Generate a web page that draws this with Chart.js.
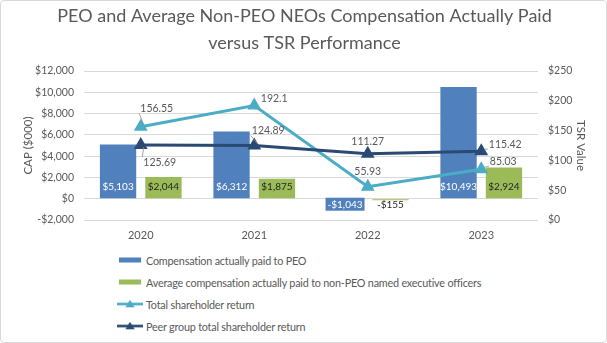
<!DOCTYPE html>
<html lang="en">
<head>
<meta charset="UTF-8">
<title>PEO and Average Non-PEO NEOs Compensation Actually Paid versus TSR Performance</title>
<script src="https://cdn.jsdelivr.net/npm/chart.js"></script>
<style>
  html, body { margin: 0; padding: 0; background: #fff; }
  #frame {
    position: relative; width: 605px; height: 341px;
    border: 1px solid #d9d9d9; border-radius: 4px; overflow: hidden;
    font-family: Lato, "Open Sans", sans-serif; color: #595959;
  }
  #box { position: absolute; left: 0; top: 0; width: 605px; height: 245px; }
  #legend { position: absolute; left: 116px; top: 248px; font-size: 10.8px; letter-spacing: -0.2px; }
  .row { height: 22px; display: flex; align-items: center; }
  .sw { width: 26px; height: 10px; margin-right: 3px; position: relative; }
</style>
</head>
<body>
<div id="frame">
  <div id="box"><canvas id="capChart"></canvas></div>
  <div id="legend"></div>
</div>
<script>
// values
var years = ['2020', '2021', '2022', '2023'];
var peoCap = [5103, 6312, -1043, 10493];
var neoCap = [2044, 1875, -155, 2924];
var tsr = [156.55, 192.1, 55.93, 85.03];
var peerTsr = [125.69, 124.89, 111.27, 115.42];
var capTicks = [-2000, 0, 2000, 4000, 6000, 8000, 10000, 12000];
var tsrTicks = [0, 50, 100, 150, 200, 250];

var names = [
  'Compensation actually paid to PEO',
  'Average compensation actually paid to non-PEO named executive officers',
  'Total shareholder return',
  'Peer group total shareholder return'
];
var blue = '#5181bc', green = '#9bbb59', light = '#4bacc6', navy = '#2a4a73';
var grey = '#595959';
var FONT = 'Lato, "Open Sans", sans-serif';

function money(v) {
  var s = '$' + Math.abs(v).toLocaleString('en-US');
  return v < 0 ? '-' + s : s;
}

// label placement for the line points: [dx, dy, leader]
var tsrPos = [[16, -18, true], [20, -7, false], [0, -15, false], [22, -8, true]];
var peerPos = [[19, 18, true], [14, -15, true], [0, -12, false], [24, -7, true]];

var valueLabels = {
  id: 'valueLabels',
  afterDatasetsDraw: function (chart) {
    var ctx = chart.ctx;
    var zero = chart.scales.y.getPixelForValue(0);
    ctx.save();
    ctx.font = '10px ' + FONT;
    ctx.textAlign = 'center';
    ctx.textBaseline = 'middle';
    [0, 1].forEach(function (di) {
      chart.getDatasetMeta(di).data.forEach(function (bar, i) {
        var v = chart.data.datasets[di].data[i];
        var y = v >= 0 ? zero - 12 : zero + 6;
        ctx.fillStyle = (di === 0) ? '#ffffff' : '#262626';
        if (di === 0 && v < 0) {
          ctx.fillStyle = blue;
          var w = ctx.measureText(money(v)).width + 4;
          ctx.fillRect(bar.x - w / 2, zero - 1, w, 13);
          ctx.fillStyle = '#ffffff';
        }
        ctx.fillText(money(v), bar.x, y);
      });
    });
    ctx.font = '10.5px ' + FONT;
    [[2, tsrPos], [3, peerPos]].forEach(function (p) {
      chart.getDatasetMeta(p[0]).data.forEach(function (pt, i) {
        var o = p[1][i];
        var txt = String(chart.data.datasets[p[0]].data[i]);
        var lx = pt.x + o[0], ly = pt.y + o[1];
        ctx.fillStyle = grey;
        ctx.fillText(txt, lx, ly);
        if (o[2]) {
          var w = ctx.measureText(txt).width;
          var ex = lx - w / 2 - 1;
          var ey = o[1] < 0 ? ly + 5 : ly - 6;
          ctx.strokeStyle = '#8c8c8c';
          ctx.lineWidth = 0.8;
          ctx.beginPath();
          ctx.moveTo(ex, ey);
          ctx.lineTo(pt.x + 3, pt.y + (o[1] < 0 ? -2 : 2));
          ctx.stroke();
        }
      });
    });
    ctx.restore();
  }
};

var ctx = document.getElementById('capChart').getContext('2d');
var chart = new Chart(ctx, {
  type: 'bar',
  data: {
    labels: years,
    datasets: [
      { label: names[0], data: peoCap, backgroundColor: blue, yAxisID: 'y', order: 2,
        categoryPercentage: 0.8, barPercentage: 0.8 },
      { label: names[1], data: neoCap, backgroundColor: green, yAxisID: 'y', order: 2,
        categoryPercentage: 0.8, barPercentage: 0.8 },
      { type: 'line', label: names[2], data: tsr, borderColor: light, backgroundColor: light,
        borderWidth: 3, pointStyle: 'triangle', pointRadius: 5, yAxisID: 'y1', order: 1 },
      { type: 'line', label: names[3], data: peerTsr, borderColor: navy, backgroundColor: navy,
        borderWidth: 3, pointStyle: 'triangle', pointRadius: 5, yAxisID: 'y1', order: 0 }
    ]
  },
  options: {
    responsive: true,
    maintainAspectRatio: false,
    animation: false,
    layout: { padding: { left: 16, right: 14, top: 2, bottom: 0 } },
    plugins: {
      legend: { display: false },
      tooltip: { enabled: false },
      title: {
        display: true,
        text: ['PEO and Average Non-PEO NEOs Compensation Actually Paid', 'versus TSR Performance'],
        color: grey,
        font: { family: FONT, size: 18, weight: 'normal', lineHeight: 1.5 },
        padding: { top: 0, bottom: 14 }
      }
    },
    scales: {
      x: {
        afterFit: function (s) { s.height = 26; },
        grid: { display: false, drawTicks: false },
        border: { display: false },
        ticks: { color: grey, font: { size: 11, family: FONT }, padding: 9 }
      },
      y: {
        position: 'left',
        min: capTicks[0], max: capTicks[capTicks.length - 1],
        afterBuildTicks: function (s) { s.ticks = capTicks.map(function (v) { return { value: v }; }); },
        afterFit: function (s) { s.width = 67; },
        grid: { color: '#d9d9d9', drawTicks: false },
        border: { display: false },
        ticks: { color: grey, padding: 10, font: { size: 10.5, family: FONT },
                 callback: function (v) { return money(v); } },
        title: { display: true, text: 'CAP ($000)', color: grey, font: { size: 11.5, family: FONT } }
      },
      y1: {
        position: 'right',
        min: tsrTicks[0], max: tsrTicks[tsrTicks.length - 1],
        afterBuildTicks: function (s) { s.ticks = tsrTicks.map(function (v) { return { value: v }; }); },
        afterFit: function (s) { s.width = 54; },
        grid: { display: false, drawTicks: false },
        border: { display: false },
        ticks: { color: grey, padding: 10, font: { size: 10.5, family: FONT },
                 callback: function (v) { return '$' + v; } },
        title: { display: true, text: 'TSR Value', color: grey, font: { size: 11.5, family: FONT } }
      }
    }
  },
  plugins: [valueLabels]
});

// legend, one entry per row
var leg = document.getElementById('legend');
chart.data.datasets.forEach(function (ds) {
  var row = document.createElement('div');
  row.className = 'row';
  var sw = document.createElement('canvas');
  sw.width = 28; sw.height = 12; sw.className = 'sw';
  var c = sw.getContext('2d');
  if (ds.type === 'line') {
    c.strokeStyle = ds.borderColor; c.lineWidth = 3;
    c.beginPath(); c.moveTo(0, 6); c.lineTo(28, 6); c.stroke();
    c.fillStyle = ds.borderColor;
    c.beginPath(); c.moveTo(14, 1); c.lineTo(19, 10); c.lineTo(9, 10); c.closePath(); c.fill();
  } else {
    c.fillStyle = ds.backgroundColor;
    c.fillRect(2, 3, 24, 6);
  }
  row.appendChild(sw);
  var t = document.createElement('span');
  t.textContent = ds.label;
  row.appendChild(t);
  leg.appendChild(row);
});
</script>
</body>
</html>
